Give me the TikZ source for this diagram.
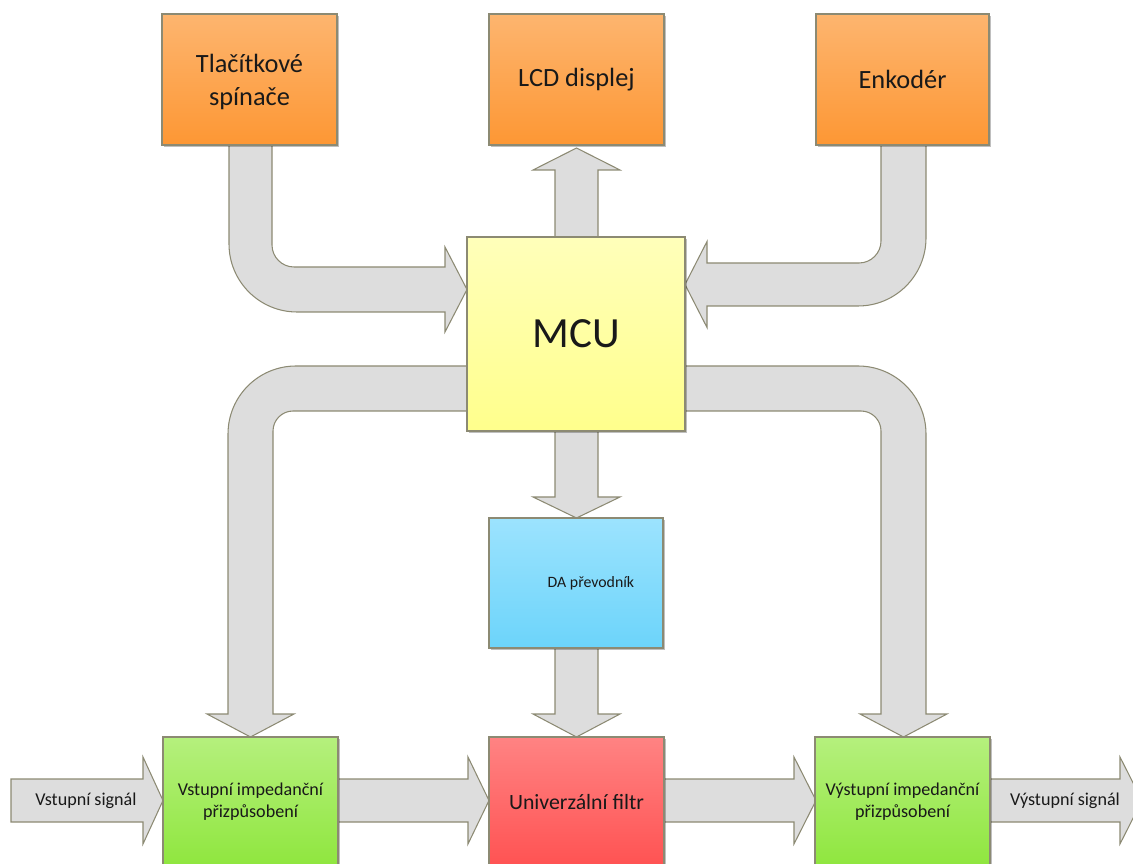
\documentclass[tikz,border=0pt]{standalone}
\usepackage{fontspec}
\setmainfont{Carlito}
\usetikzlibrary{shadows}
\definecolor{edge}{RGB}{140,138,115}
\definecolor{arrowfill}{RGB}{221,221,221}
\definecolor{orangeT}{RGB}{253,181,111}
\definecolor{orangeB}{RGB}{253,151,52}
\definecolor{yellowT}{RGB}{255,255,186}
\definecolor{yellowB}{RGB}{255,255,140}
\definecolor{blueT}{RGB}{156,227,254}
\definecolor{blueB}{RGB}{108,212,250}
\definecolor{redT}{RGB}{255,131,131}
\definecolor{redB}{RGB}{255,82,82}
\definecolor{greenT}{RGB}{181,240,125}
\definecolor{greenB}{RGB}{143,230,62}
\definecolor{txt}{RGB}{25,25,25}
\tikzset{
  blockbox/.style={draw=edge, line width=0.6pt, align=center, text=txt, inner sep=2pt,
    drop shadow={shadow xshift=1.2pt, shadow yshift=-1.2pt, opacity=0.25, fill=black}},
  orangebox/.style={blockbox, top color=orangeT, bottom color=orangeB,
    minimum width=3.5cm, minimum height=2.62cm, font=\fontsize{15}{18.7}\selectfont},
  mcubox/.style={blockbox, top color=yellowT, bottom color=yellowB,
    minimum width=4.36cm, minimum height=3.88cm, font=\fontsize{24.5}{28}\selectfont},
  dabox/.style={blockbox, top color=blueT, bottom color=blueB,
    minimum width=3.48cm, minimum height=2.6cm, font=\fontsize{9}{11}\selectfont},
  greenbox/.style={blockbox, top color=greenT, bottom color=greenB,
    minimum width=3.5cm, minimum height=2.6cm, font=\fontsize{10.3}{12.5}\selectfont},
  redbox/.style={blockbox, top color=redT, bottom color=redB,
    minimum width=3.5cm, minimum height=2.6cm, font=\fontsize{12.4}{14}\selectfont},
  blockarrow/.style={draw=edge, line width=0.6pt, fill=arrowfill, line join=miter},
  arrowlabel/.style={text=txt, font=\fontsize{10.3}{12.5}\selectfont}
}
\begin{document}
\begin{tikzpicture}[x=0.02cm, y=-0.02cm]
\useasboundingbox (0,0) rectangle (1133,864);
\clip (0,0) rectangle (1133,864);
% ---- block arrows (drawn first, boxes cover their ends)
% Tlacitkove -> MCU
\draw[blockarrow] (229,140) -- (229,244) .. controls (229,281.5) and (259.5,312) .. (297,312)
  -- (445,312) -- (445,332) -- (467,289.5) -- (445,247) -- (445,267) -- (294,267)
  .. controls (281.9,267) and (272,257.1) .. (272,245) -- (272,140) -- cycle;
% MCU -> LCD
\draw[blockarrow] (555,240) -- (555,170) -- (533,170) -- (576.5,148) -- (620,170) -- (598,170) -- (598,240) -- cycle;
% Enkoder -> MCU
\draw[blockarrow] (926,140) -- (926,238) .. controls (926,275.5) and (895.5,306) .. (858,306)
  -- (707,306) -- (707,327.5) -- (685,284.5) -- (707,241.5) -- (707,263) -- (859,263)
  .. controls (871.1,263) and (881,253.1) .. (881,241) -- (881,140) -- cycle;
% MCU -> Vstupni
\draw[blockarrow] (470,366) -- (296,366) .. controls (258.4,366) and (228,396.4) .. (228,434)
  -- (228,714) -- (207,714) -- (250.5,737) -- (294,714) -- (273,714) -- (273,431)
  .. controls (273,420) and (282,411) .. (293,411) -- (470,411) -- cycle;
% MCU -> Vystupni
\draw[blockarrow] (682,366) -- (858,366) .. controls (895.6,366) and (926,396.4) .. (926,434)
  -- (926,714) -- (947,714) -- (903.5,737) -- (860,714) -- (881,714) -- (881,431)
  .. controls (881,420) and (872,411) .. (861,411) -- (682,411) -- cycle;
% MCU -> DA
\draw[blockarrow] (555,428) -- (555,497) -- (533,497) -- (576.5,518) -- (620,497) -- (598,497) -- (598,428) -- cycle;
% DA -> filtr
\draw[blockarrow] (555,645) -- (555,714) -- (533,714) -- (576.5,737) -- (620,714) -- (598,714) -- (598,645) -- cycle;
% bottom horizontal arrows
\draw[blockarrow] (11,779) -- (143,779) -- (143,757) -- (163,800.5) -- (143,844) -- (143,822) -- (11,822) -- cycle;
\draw[blockarrow] (335,779) -- (468,779) -- (468,757) -- (489,800.5) -- (468,844) -- (468,822) -- (335,822) -- cycle;
\draw[blockarrow] (661,779) -- (794,779) -- (794,757) -- (816,800.5) -- (794,844) -- (794,822) -- (661,822) -- cycle;
\draw[blockarrow] (986,779) -- (1120,779) -- (1120,757) -- (1142,800.5) -- (1120,844) -- (1120,822) -- (986,822) -- cycle;
% ---- boxes
\node[orangebox] (tl) at (249.5,79.5) {\rule{0pt}{4pt}\\[-9pt]Tlačítkové\\spínače};
\node[orangebox] (lcd) at (576.5,79.5) {LCD displej};
\node[orangebox, minimum width=3.46cm] (enc) at (902.5,79.5) {Enkodér};
\node[mcubox] (mcu) at (576,334) {MCU};
\node[dabox] (da) at (576,583) {\hspace*{17pt}DA převodník};
\node[greenbox] (vin) at (250.5,802) {Vstupní impedanční\\přizpůsobení};
\node[redbox] (filt) at (576.5,802) {Univerzální filtr};
\node[greenbox] (vout) at (902.5,802) {Výstupní impedanční\\přizpůsobení};
% ---- arrow labels
\node[arrowlabel] (inlbl) at (86,801) {Vstupní signál};
\node[arrowlabel] (outlbl) at (1065,801) {Výstupní signál};
\end{tikzpicture}
\end{document}
